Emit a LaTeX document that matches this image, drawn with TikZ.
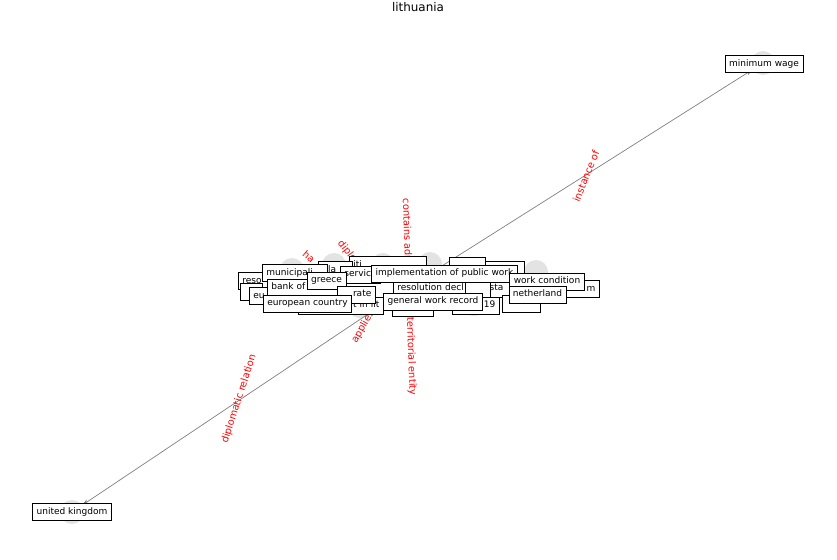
\documentclass[tikz,border=0pt]{standalone}
\usepackage{fontspec}
\setmainfont{DejaVu Sans}
\usetikzlibrary{arrows.meta}
\newcommand\boxfont{\fontsize{7.7}{9}\selectfont}
\newcommand\lblfont{\fontsize{8.4}{10}\selectfont}
\newcommand\ttlfont{\fontsize{10.2}{12}\selectfont}
\tikzset{
  nbox/.style={draw=black, fill=white, line width=0.6pt, inner xsep=3.4pt, inner ysep=3.4pt,
    text height=6pt, text depth=1.8pt, font=\boxfont},
  frag/.style={nbox, anchor=west, align=left},
  fragr/.style={nbox, anchor=west, align=right},
  elbl/.style={text=red, font=\lblfont, inner sep=0pt},
  edge/.style={draw=black!50, line width=0.6pt, -{Stealth[length=6pt,width=4pt]}},
  ncirc/.style={circle, fill=black!11, draw=none, minimum size=7.2mm, inner sep=0pt},
}
\begin{document}
\begin{tikzpicture}[x=0.3mm, y=-0.3mm]
\useasboundingbox (0,0) rectangle (837,559);
\node[font=\ttlfont, inner sep=0pt] (title) at (418,7) {lithuania};

% node markers
\coordinate (lith) at (407,288);
\node[ncirc] (mwc) at (763,63) {};
\node[ncirc] (ukc) at (72,512) {};
\node[ncirc] (c1) at (292,270) {};
\node[ncirc] (c2) at (334,265) {};
\node[ncirc] (c3) at (383,265) {};
\node[ncirc] (c4) at (430,264) {};
\node[ncirc] (c5) at (536,272) {};
\node[ncirc] (c6) at (360,306) {};
\node[ncirc] (c7) at (474,304) {};
\node[ncirc] (c8) at (521,300) {};
\node[ncirc] (c9) at (409,306) {};

% edges
\draw[edge] (lith) -- (mwc);
\draw[edge] (lith) -- (ukc);

% edge labels
\node[elbl, rotate=68] (l1) at (586,176) {instance of};
\node[elbl, rotate=72] (l2) at (239,399) {diplomatic relation};
\node[elbl, rotate=-88] (l3) at (409,297) {contains administrative territorial entity};
\node[elbl, rotate=60] (l4) at (363,327) {applies};
\node[elbl, rotate=-40] (l5) at (309,257) {ha};
\node[elbl, rotate=-52] (l6) at (347,251) {diplo};

% node boxes, back to front
\node[frag, text width=20.7mm] (b1) at (349,265) {iti};
\node[frag, text width=8.4mm] (b2) at (449,266) {};
\node[frag, text width=9.3mm] (b3) at (485,270) {};
\node[frag, text width=7.8mm] (bla) at (318,270) {bla};
\node[frag, text width=13.2mm] (reso) at (238,281) {reso};
\node[frag, text width=4.2mm] (b7) at (240,292) {};
\node[frag, text width=12.9mm] (eu) at (249,296) {eu};
\node[frag, text width=17.1mm] (muni) at (262,273) {municipali};
\node[frag, text width=9.6mm] (serv) at (340,274.5) {servic};
\node[fragr, text width=23.1mm] (tinl) at (298,305.5) {t in lit};
\node[frag, text width=19.5mm] (bank) at (267,287.5) {bank of};
\node[nbox] (greece) at (326.5,280.5) {greece};
\node[fragr, text width=9.0mm] (rate) at (337,294.5) {rate};
\node[nbox] (euc) at (307.5,303.5) {european country};
\node[frag, text width=47.7mm] (resol) at (393,288.5) {resolution decl\hspace{22pt}sta};
\node[frag, text width=5.1mm] (b17) at (465,291) {};
\node[frag, text width=9.9mm] (b19) at (392,308) {};
\node[fragr, text width=11.7mm] (n19) at (452,305.5) {19};
\node[nbox] (impl) at (444.5,273.5) {implementation of public work};
\node[nbox] (gwr) at (433,301.5) {general work record};
\node[frag, text width=9.0mm] (b21) at (502,303.5) {};
\node[fragr, text width=10.5mm] (um) at (556,289) {m};
\node[nbox] (wc) at (547,281.5) {work condition};
\node[nbox] (neth) at (537.5,294.5) {netherland};

\node[nbox] (mw) at (764,64) {minimum wage};
\node[nbox] (uk) at (72,512) {united kingdom};
\end{tikzpicture}
\end{document}
